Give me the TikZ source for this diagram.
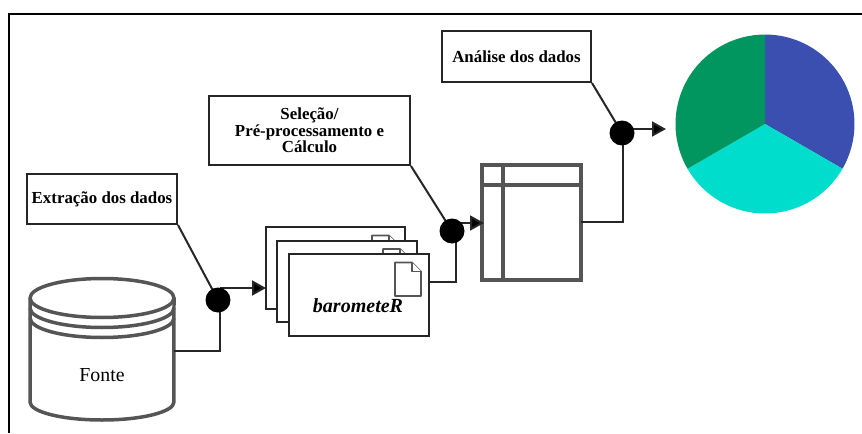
\documentclass[tikz,border=0pt]{standalone}
\usepackage{fontspec}
\setmainfont{Liberation Serif}
\usetikzlibrary{arrows.meta,calc}
\definecolor{pieblue}{HTML}{3A4FB0}
\definecolor{piecyan}{HTML}{00DDCC}
\definecolor{piegreen}{HTML}{019660}
\definecolor{heavy}{HTML}{555555}
\tikzset{
  conn/.style={draw=black!85,line width=0.4mm},
  flow/.style={conn,-{Triangle[length=2.8mm,width=3mm,fill=black]}},
}

\begin{document}
\begin{tikzpicture}[x=0.02cm,y=-0.02cm,font=\fontsize{9.6pt}{9.6pt}\selectfont,
   lab/.style={draw=black!85,line width=0.4mm,fill=white,inner sep=0pt,align=center,font=\fontsize{9.6pt}{9.4pt}\selectfont\bfseries},
   sheet/.style={draw=black!85,line width=0.4mm,fill=white,minimum width=28mm,minimum height=16.4mm,inner sep=0pt},
   dot/.style={circle,fill=black,minimum size=5mm,inner sep=0pt},
   heavyline/.style={draw=heavy,line width=0.7mm,line join=round},
   docicon/.style={draw=heavy,line width=0.35mm,fill=white,line join=round}]
  \useasboundingbox (0,0) rectangle (862,433);
  \draw[draw=black,line width=0.4mm] (9,433) -- (9,14) -- (862,14);

  % fonte
  \filldraw[heavyline,fill=white] (30,298) -- (30,402) arc[start angle=180,end angle=360,x radius=1.44cm,y radius=0.36cm]
     -- (174,298) arc[start angle=0,end angle=180,x radius=1.44cm,y radius=0.39cm] -- cycle;
  \draw[heavyline] (30,298) arc[start angle=180,end angle=360,x radius=1.44cm,y radius=0.39cm];
  \draw[heavyline] (30,308) arc[start angle=180,end angle=360,x radius=1.44cm,y radius=0.39cm];
  \draw[heavyline] (30,318) arc[start angle=180,end angle=360,x radius=1.44cm,y radius=0.39cm];
  \node[font=\fontsize{11.3pt}{12pt}\selectfont] (fonte) at (102,375) {Fonte};

  % barometeR
  \node[sheet] (s1) at (335.5,268) {};
  \draw[docicon] (372,248.5) -- (372,235.5) -- (389,235.5) -- (398,244.5) -- (398,248.5);
  \draw[docicon] (389,235.5) -- (389,244.5) -- (398,244.5);
  \node[sheet] (s2) at (347,281.5) {};
  \draw[docicon] (383,262) -- (383,249) -- (400,249) -- (409,258) -- (409,262);
  \draw[docicon] (400,249) -- (400,258) -- (409,258);
  \node[sheet] (s3) at (359,295) {};
  \draw[docicon] (395,296) -- (395,262.5) -- (412,262.5) -- (421,271.5) -- (421,296) -- cycle;
  \draw[docicon] (412,262.5) -- (412,271.5) -- (421,271.5);
  \node[font=\fontsize{11.4pt}{12pt}\selectfont\bfseries\itshape] (baro) at (358,306) {barometeR};

  % tabela
  \node[draw=heavy,line width=0.8mm,minimum width=19.8mm,minimum height=23mm,inner sep=0pt] (tab) at (531.5,222.5) {};
  \draw[draw=heavy,line width=0.8mm] (482,185) -- (581,185);
  \draw[draw=heavy,line width=0.8mm] (503,165) -- (503,280);

  % pizza
  \coordinate (pie) at (765,124);
  \fill[pieblue] (pie) -- +(90:1.79cm) arc[start angle=90,end angle=-30,radius=1.79cm] -- cycle;
  \fill[piecyan] (pie) -- +(-30:1.79cm) arc[start angle=-30,end angle=-150,radius=1.79cm] -- cycle;
  \fill[piegreen] (pie) -- +(210:1.79cm) arc[start angle=210,end angle=90,radius=1.79cm] -- cycle;

  \node[lab,minimum width=30mm,minimum height=10mm] (ext) at (102,199) {Extração dos dados};
  \node[lab,minimum width=40.2mm,minimum height=13.8mm] (sel) at (309.5,130.5) {Seleção/\\Pré-processamento e\\Cálculo};
  \node[lab,minimum width=29.8mm,minimum height=10.2mm] (ana) at (516.5,56.5) {Análise dos dados};

  \coordinate (fonteout) at (174,351);
  \coordinate (baroout) at (429,281.5);
  \coordinate (tabout) at (581,222);
  \coordinate (d1in) at (220,300);
  \coordinate (d2in) at (456,231);
  \coordinate (d3in) at (622.5,133);
  \coordinate (s1in) at (266,288);
  \coordinate (tabin) at (484,223);
  \coordinate (piein) at (666,129);

  \draw[conn] (ext.south east) -- (218,300);
  \draw[conn] (sel.south east) -- (452,231);
  \draw[conn] (ana.south east) -- (622,133);
  \draw[conn] (fonteout) -| (d1in);
  \draw[conn] (baroout) -| (d2in);
  \draw[conn] (tabout) -| (d3in);
  \draw[flow] (d1in |- s1in) -- (s1in);
  \draw[flow] (456,223) -- (tabin);
  \draw[flow] (622,129) -- (piein);

  \node[dot] (d1) at (218,300) {};
  \node[dot] (d2) at (452,231) {};
  \node[dot] (d3) at (622,133) {};
\end{tikzpicture}
\end{document}
